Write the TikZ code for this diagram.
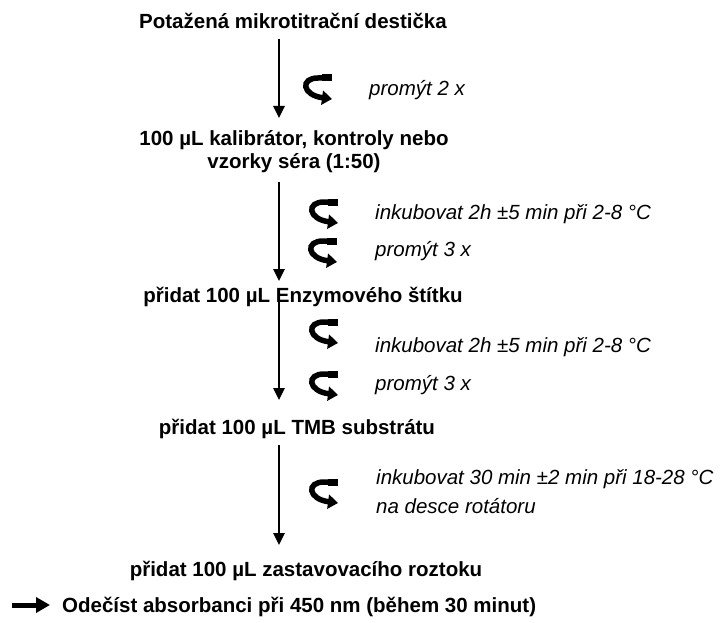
\documentclass[tikz,border=0pt]{standalone}
\usepackage{fontspec}
\setmainfont{Liberation Sans}
\usetikzlibrary{arrows.meta}
\tikzset{
  stepbox/.style={font=\fontsize{20.5}{23}\selectfont\bfseries, align=center, inner sep=0pt, anchor=base},
  notebox/.style={font=\fontsize{20.5}{29}\selectfont\itshape, align=left, inner sep=0pt, anchor=base west},
  flowarrow/.style={line width=2.5pt, -{Triangle[length=12pt,width=11pt]}},
  curl/.pic={
    \draw[line width=7pt] (16,-10) -- (6,-10);
    \draw[line width=5.5pt, -{Triangle[length=10pt,width=14pt]}] (7,-10) -- (2,-10) .. controls (-16,-10) and (-14,7) .. (16,11);}
}
\begin{document}
\begin{tikzpicture}[x=1pt,y=-1pt]
\useasboundingbox (0,0) rectangle (720,623);
\node[stepbox] (s1) at (293,29) {Potažená mikrotitrační destička};
\node[stepbox] (s2) at (294,168) {100 µL kalibrátor, kontroly nebo\\vzorky séra (1:50)};
\node[stepbox] (s3) at (303,302) {přidat 100 µL Enzymového štítku};
\node[stepbox] (s4) at (297,434) {přidat 100 µL TMB substrátu};
\node[stepbox] (s5) at (306,576) {přidat 100 µL zastavovacího roztoku};
\node[stepbox, anchor=base west] (s6) at (62,612) {Odečíst absorbanci při 450 nm (během 30 minut)};

\coordinate (a1s) at (279,39);  \coordinate (a1e) at (279,118);
\coordinate (a2s) at (279,182); \coordinate (a2e) at (279,281);
\coordinate (a3s) at (279,290); \coordinate (a3e) at (279,400);
\coordinate (a4s) at (279,445); \coordinate (a4e) at (279,545);
\draw[flowarrow] (a1s) -- (a1e);
\draw[flowarrow] (a2s) -- (a2e);
\draw[flowarrow] (a3s) -- (a3e);
\draw[flowarrow] (a4s) -- (a4e);

\coordinate (b0) at (12,605); \coordinate (b1) at (50,605);
\draw[line width=5pt, -{Triangle[length=14pt,width=15pt]}] (b0) -- (b1);

\pic at (316,88) {curl};
\pic at (322,212) {curl};
\pic at (321,251) {curl};
\pic at (322,332) {curl};
\pic at (322,384) {curl};
\pic at (322,492) {curl};

\node[notebox] (n1) at (369,96) {promýt 2 x};
\node[notebox] (n2) at (375,219) {inkubovat 2h ±5 min při 2-8 °C};
\node[notebox] (n3) at (375,256) {promýt 3 x};
\node[notebox] (n4) at (375,352) {inkubovat 2h ±5 min při 2-8 °C};
\node[notebox] (n5) at (375,390) {promýt 3 x};
\node[notebox] (n6) at (376,513) {inkubovat 30 min ±2 min při 18-28 °C\\na desce rotátoru};
\end{tikzpicture}
\end{document}
